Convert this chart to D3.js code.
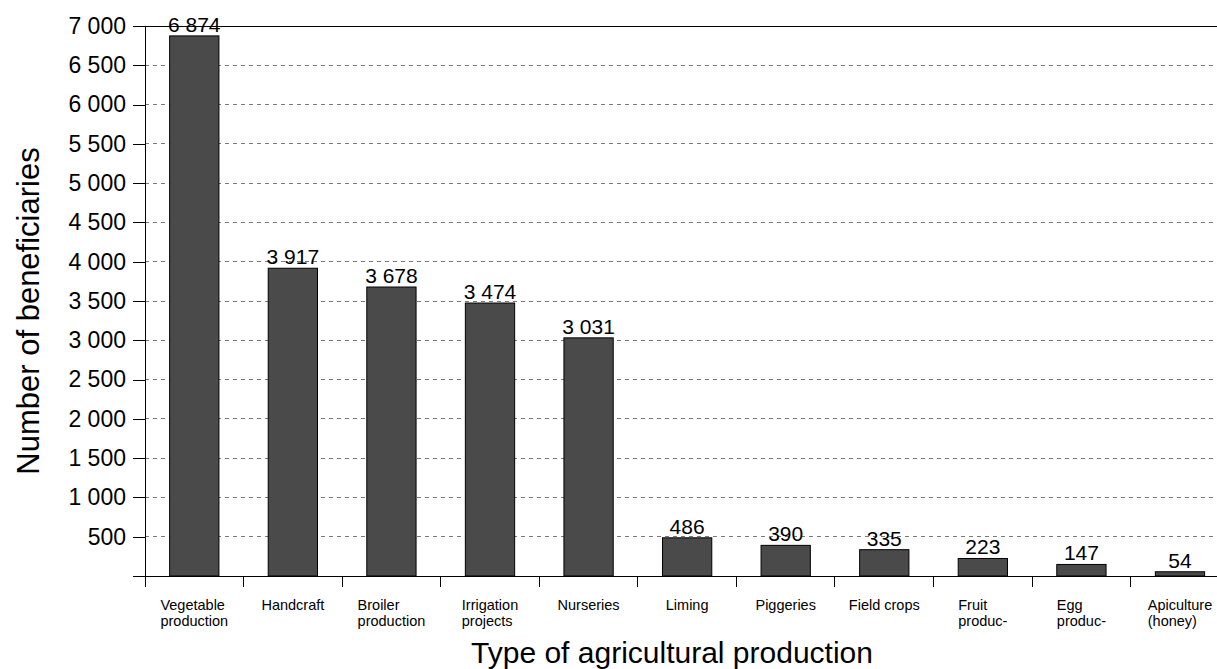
<!DOCTYPE html>
<html>
<head>
<meta charset="utf-8">
<script src="https://cdn.jsdelivr.net/npm/d3@7"></script>
<style>
  html, body { margin: 0; padding: 0; background: #fff; overflow: hidden; }
  svg { display: block; font-family: "Liberation Sans", Arial, sans-serif; }
</style>
</head>
<body>
<svg id="chart" width="1217" height="669"></svg>
<script>
var categories = [
    [ "Vegetable", "production" ],
    [ "Handcraft" ],
    [ "Broiler", "production" ],
    [ "Irrigation", "projects" ],
    [ "Nurseries" ],
    [ "Liming" ],
    [ "Piggeries" ],
    [ "Field crops" ],
    [ "Fruit", "produc-" ],
    [ "Egg", "produc-" ],
    [ "Apiculture", "(honey)" ]
];
var beneficiaries = [ 6874, 3917, 3678, 3474, 3031, 486, 390, 335, 223, 147, 54 ];
var yTicks = [ 500, 1000, 1500, 2000, 2500, 3000, 3500, 4000, 4500, 5000, 5500, 6000, 6500, 7000 ];

var svg = d3.select( "#chart" ),
    W = 1217, mLeft = 145, mTop = 26, mBottom = 576, step = 98.57;

var keys = categories.map( function( c, i ) { return i; } );

var x = d3.scaleBand()
    .domain( keys )
    .range( [ mLeft, mLeft + step * keys.length ] )
    .paddingInner( 0.5 )
    .paddingOuter( 0.25 );

var y = d3.scaleLinear().domain( [ 0, 7000 ] ).range( [ mBottom, mTop ] );

function fmt( v ) {
    return d3.format( "," )( v ).replace( /,/g, " " );
}

function drawGrid() {
    svg.append( "g" ).selectAll( "line" )
        .data( yTicks.filter( function( t ) { return t < 7000; } ) )
        .enter().append( "line" )
        .attr( "x1", mLeft ).attr( "x2", W )
        .attr( "y1", function( d ) { return y( d ); } )
        .attr( "y2", function( d ) { return y( d ); } )
        .attr( "stroke", "#7a7a7a" )
        .attr( "stroke-width", 1 )
        .attr( "stroke-dasharray", "4,4" )
        .attr( "shape-rendering", "crispEdges" );

    // solid top border at 7 000
    svg.append( "line" )
        .attr( "x1", mLeft - 12 ).attr( "x2", W )
        .attr( "y1", y( 7000 ) ).attr( "y2", y( 7000 ) )
        .attr( "stroke", "#000" )
        .attr( "shape-rendering", "crispEdges" );
}

function drawBars() {
    svg.append( "g" ).selectAll( "rect" )
        .data( beneficiaries )
        .enter().append( "rect" )
        .attr( "x", function( d, i ) { return x( i ); } )
        .attr( "y", function( d ) { return y( d ); } )
        .attr( "width", x.bandwidth() )
        .attr( "height", function( d ) { return mBottom - y( d ); } )
        .attr( "fill", "#4a4a4a" )
        .attr( "stroke", "#000" )
        .attr( "stroke-width", 1 );

    svg.append( "g" ).selectAll( "text" )
        .data( beneficiaries )
        .enter().append( "text" )
        .attr( "x", function( d, i ) { return x( i ) + x.bandwidth() / 2; } )
        .attr( "y", function( d ) { return y( d ) - 4; } )
        .attr( "text-anchor", "middle" )
        .attr( "font-size", 21 )
        .attr( "fill", "#000" )
        .text( fmt );
}

function drawAxes() {
    var yAxis = d3.axisLeft( y )
        .tickValues( [ 0 ].concat( yTicks ) )
        .tickSize( 12 )
        .tickPadding( 7 )
        .tickFormat( function( d ) { return d === 0 ? "" : fmt( d ); } );

    var gy = svg.append( "g" )
        .attr( "transform", "translate(" + mLeft + ",0)" )
        .call( yAxis );
    gy.select( ".domain" ).remove();
    gy.selectAll( ".tick line" ).attr( "stroke", "#000" ).attr( "shape-rendering", "crispEdges" );
    gy.selectAll( ".tick text" )
        .attr( "font-size", 23 )
        .attr( "font-family", "Liberation Sans, Arial, sans-serif" )
        .attr( "fill", "#000" );

    svg.append( "line" )
        .attr( "x1", mLeft ).attr( "x2", mLeft )
        .attr( "y1", mTop ).attr( "y2", mBottom + 11 )
        .attr( "stroke", "#000" )
        .attr( "shape-rendering", "crispEdges" );

    svg.append( "line" )
        .attr( "x1", mLeft - 12 ).attr( "x2", W )
        .attr( "y1", mBottom ).attr( "y2", mBottom )
        .attr( "stroke", "#000" )
        .attr( "shape-rendering", "crispEdges" );

    // ticks on the band edges
    svg.append( "g" ).selectAll( "line" )
        .data( keys.slice( 1 ).concat( [ keys.length ] ) )
        .enter().append( "line" )
        .attr( "x1", function( d ) { return mLeft + d * x.step(); } )
        .attr( "x2", function( d ) { return mLeft + d * x.step(); } )
        .attr( "y1", mBottom ).attr( "y2", mBottom + 11 )
        .attr( "stroke", "#000" )
        .attr( "shape-rendering", "crispEdges" );

    var labels = svg.append( "g" ).selectAll( "text" )
        .data( categories )
        .enter().append( "text" )
        .attr( "font-size", 14.5 )
        .attr( "fill", "#000" );

    labels.each( function( lines, i ) {
        var t = d3.select( this );
        lines.forEach( function( line, j ) {
            t.append( "tspan" )
                .attr( "y", 610 + j * 16 )
                .text( line );
        });
        var wMax = 0;
        t.selectAll( "tspan" ).each( function() {
            wMax = Math.max( wMax, this.getComputedTextLength() );
        });
        t.selectAll( "tspan" ).attr( "x", x( i ) + x.bandwidth() / 2 - wMax / 2 );
    });

    svg.append( "text" )
        .attr( "x", 672 ).attr( "y", 663 )
        .attr( "text-anchor", "middle" )
        .attr( "font-size", 30 )
        .text( "Type of agricultural production" );

    svg.append( "text" )
        .attr( "transform", "translate(39,311) rotate(-90)" )
        .attr( "text-anchor", "middle" )
        .attr( "font-size", 31 )
        .text( "Number of beneficiaries" );
}

drawGrid();
drawBars();
drawAxes();
</script>
</body>
</html>
